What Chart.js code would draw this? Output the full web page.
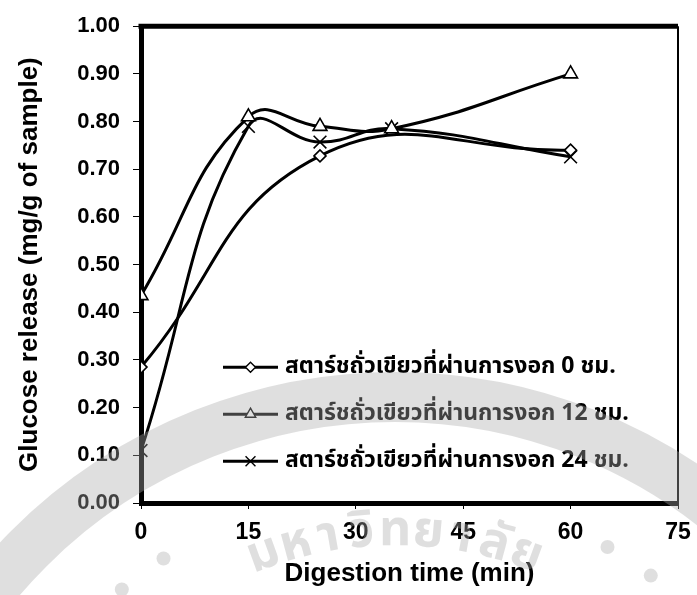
<!DOCTYPE html>
<html>
<head>
<meta charset="utf-8">
<script src="https://cdn.jsdelivr.net/npm/chart.js@4/dist/chart.umd.min.js"></script>
<style>
  html, body { margin: 0; padding: 0; background: #fff; }
  #wrap { width: 697px; height: 595px; position: relative; }
</style>
</head>
<body>
<div id="wrap"><canvas id="glucose-chart"></canvas></div>
<script>
// digestion time (min) and glucose release (mg/g of sample) per germination time
const time0h = [0, 25, 60];
const glucose0h = [0.285, 0.728, 0.740];

const time12h = [0, 15, 25, 35, 60];
const glucose12h = [0.435, 0.810, 0.790, 0.785, 0.900];

const time24h = [0, 15, 25, 35, 60];
const glucose24h = [0.110, 0.790, 0.757, 0.785, 0.726];

const seriesLabels = [
  "สตาร์ชถั่วเขียวที่ผ่านการงอก 0 ชม.",
  "สตาร์ชถั่วเขียวที่ผ่านการงอก 12 ชม.",
  "สตาร์ชถั่วเขียวที่ผ่านการงอก 24 ชม."
];
const xTitle = "Digestion time (min)";
const yTitle = "Glucose release (mg/g of sample)";

const LATIN = "'Liberation Sans', Arial, sans-serif";
const THAI = "'Noto Sans Thai', 'Loma', 'Garuda', 'Tlwg Typo', 'Liberation Sans', sans-serif";

function toPoints(xs, ys) {
  return xs.map((x, i) => ({ x: x, y: ys[i] }));
}

const markerStyles = [
  { pointStyle: "rectRot", radius: 6, legendRadius: 5 },
  { pointStyle: "triangle", radius: 8, legendRadius: 6 },
  { pointStyle: "crossRot", radius: 9, legendRadius: 7 }
];

function makeDataset(i, xs, ys) {
  const m = markerStyles[i];
  return {
    label: seriesLabels[i],
    data: toPoints(xs, ys),
    showLine: true,
    tension: 0.45,
    borderColor: "#000",
    borderWidth: 3,
    pointStyle: m.pointStyle,
    pointRadius: m.radius,
    pointBackgroundColor: "#fff",
    pointBorderColor: "#000",
    pointBorderWidth: 1.6
  };
}

// top + right edge of the plot frame (left/bottom come from the axis borders)
const framePlugin = {
  id: "frame",
  afterDatasetsDraw(chart) {
    const { ctx, chartArea: a } = chart;
    ctx.save();
    ctx.strokeStyle = "#000";
    ctx.lineWidth = 5;
    ctx.beginPath();
    ctx.moveTo(a.left - 2.5, a.top);
    ctx.lineTo(a.right, a.top);
    ctx.stroke();
    ctx.lineWidth = 2;
    ctx.beginPath();
    ctx.moveTo(a.right, a.top);
    ctx.lineTo(a.right, a.bottom);
    ctx.stroke();
    ctx.restore();
  }
};

// legend box sitting inside the plot, lower right
const innerLegend = {
  id: "innerLegend",
  afterDraw(chart) {
    const { ctx, chartArea: a } = chart;
    const x0 = a.left + 82, x1 = a.left + 137, tx = a.left + 144;
    const rows = [a.top + 341, a.top + 388, a.top + 435];
    ctx.save();
    chart.data.datasets.forEach((ds, i) => {
      const y = rows[i];
      ctx.strokeStyle = "#000";
      ctx.lineWidth = 3;
      ctx.beginPath();
      ctx.moveTo(x0, y);
      ctx.lineTo(x1, y);
      ctx.stroke();
      ctx.fillStyle = "#fff";
      ctx.strokeStyle = "#000";
      ctx.lineWidth = 1.4;
      Chart.helpers.drawPoint(ctx, {
        pointStyle: markerStyles[i].pointStyle,
        radius: markerStyles[i].legendRadius,
        rotation: 0,
        borderWidth: 1.4
      }, (x0 + x1) / 2, y);
      ctx.fillStyle = "#000";
      ctx.font = "bold 23px " + THAI;
      ctx.textBaseline = "middle";
      ctx.fillText(ds.label, tx, y + 1);
    });
    ctx.restore();
  }
};

// split Thai text so upper/lower vowel and tone marks stay on their base letter
function thaiClusters(s) {
  return s.match(/.[\u0E31\u0E34-\u0E3A\u0E47-\u0E4E]*/gu) || [];
}

// faint seal printed over the lower part of the page
const sealPlugin = {
  id: "seal",
  afterDraw(chart) {
    const { ctx } = chart;
    const cx = 395, cy = 915;
    const tone = "rgba(170,170,170,0.38)";
    ctx.save();
    ctx.strokeStyle = tone;
    ctx.lineWidth = 50;
    ctx.beginPath();
    ctx.arc(cx, cy, 518, 0, Math.PI * 2);
    ctx.stroke();
    ctx.fillStyle = tone;
    for (let deg = -158; deg <= -22; deg += 7) {
      if (deg > -117 && deg < -63) continue;
      const r = deg * Math.PI / 180;
      ctx.beginPath();
      ctx.arc(cx + 425 * Math.cos(r), cy + 425 * Math.sin(r), 7, 0, Math.PI * 2);
      ctx.fill();
    }
    const parts = thaiClusters("มหาวิทยาลัย");
    ctx.font = "bold 50px " + THAI;
    ctx.textAlign = "center";
    ctx.textBaseline = "middle";
    const span = 40 * Math.PI / 180;
    parts.forEach((ch, k) => {
      const ang = -Math.PI / 2 - span / 2 + span * k / (parts.length - 1);
      ctx.save();
      ctx.translate(cx + 380 * Math.cos(ang), cy + 380 * Math.sin(ang));
      ctx.rotate(ang + Math.PI / 2);
      ctx.fillText(ch, 0, 0);
      ctx.restore();
    });
    ctx.restore();
  }
};

new Chart(document.getElementById("glucose-chart"), {
  type: "scatter",
  data: {
    datasets: [
      makeDataset(0, time0h, glucose0h),
      makeDataset(1, time12h, glucose12h),
      makeDataset(2, time24h, glucose24h)
    ]
  },
  options: {
    responsive: true,
    maintainAspectRatio: false,
    animation: false,
    layout: { padding: { top: 21, right: 19, left: 0, bottom: 0 } },
    plugins: {
      legend: { display: false },
      tooltip: { enabled: false }
    },
    scales: {
      x: {
        type: "linear",
        min: 0,
        max: 75,
        afterFit(scale) {
          scale.height = 92;
          scale.paddingLeft = 0;
          scale.paddingRight = 0;
        },
        ticks: {
          stepSize: 15,
          color: "#000",
          padding: 10,
          font: { family: LATIN, size: 23, weight: "bold" }
        },
        grid: { drawOnChartArea: false, drawTicks: true, tickLength: 6, color: "#000", lineWidth: 1 },
        border: { display: true, color: "#000", width: 5 },
        title: {
          display: true,
          text: xTitle,
          color: "#000",
          padding: { top: 0, bottom: 6 },
          font: { family: LATIN, size: 26, weight: "bold" }
        }
      },
      y: {
        min: 0,
        max: 1,
        afterFit(scale) { scale.width = 141; },
        ticks: {
          stepSize: 0.1,
          color: "#000",
          padding: 13,
          font: { family: LATIN, size: 22, weight: "bold" },
          callback: v => v.toFixed(2)
        },
        grid: { drawOnChartArea: false, drawTicks: true, tickLength: 8, color: "#000", lineWidth: 1 },
        border: { display: true, color: "#000", width: 5 },
        title: {
          display: true,
          text: yTitle,
          color: "#000",
          padding: { top: 14, bottom: 0 },
          font: { family: LATIN, size: 26, weight: "bold" }
        }
      }
    }
  },
  plugins: [framePlugin, innerLegend, sealPlugin]
});
</script>
</body>
</html>
